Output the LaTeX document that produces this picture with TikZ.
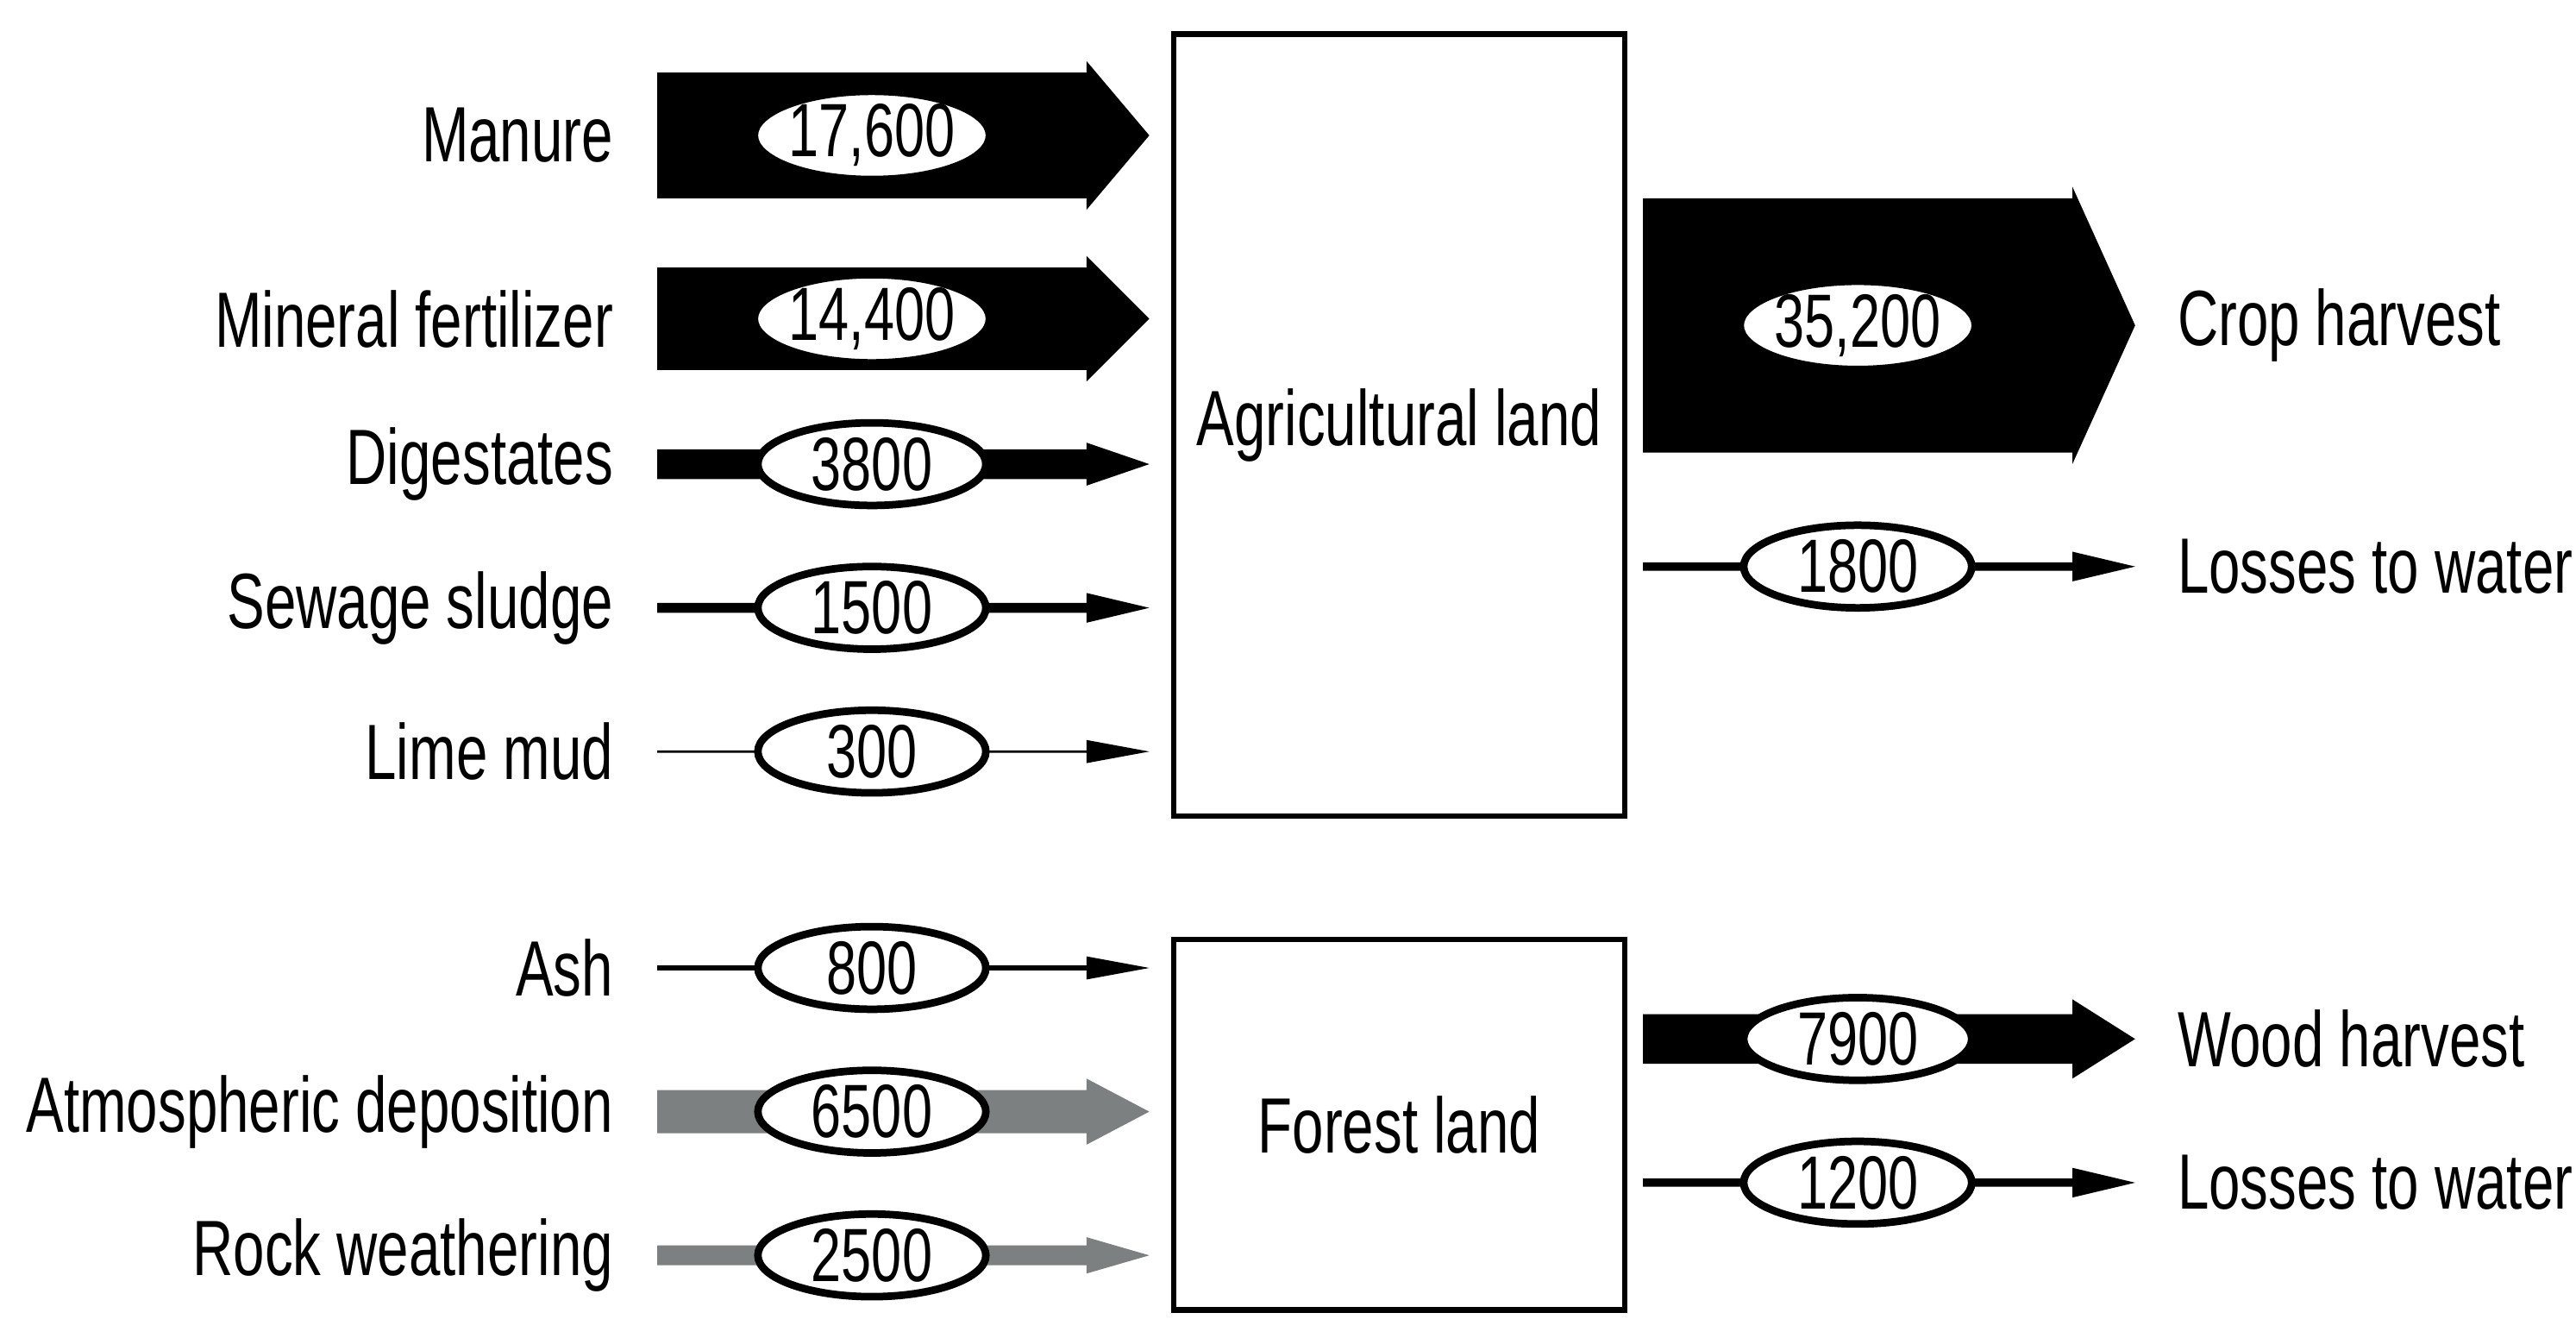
\documentclass[tikz,border=0pt]{standalone}
\usetikzlibrary{shapes.geometric}
\usepackage{fontspec}
\setmainfont[FakeStretch=0.72]{Liberation Sans}
\begin{document}
\begin{tikzpicture}[x=0.01cm,y=-0.01cm,
  val/.style={ellipse,draw,line width=1.3pt,fill=white,minimum width=1.38cm,minimum height=0.5cm,inner sep=0pt,font=\fontsize{13}{15}\selectfont},
  lab/.style={font=\fontsize{13.5}{16}\selectfont,inner sep=0pt},
  box/.style={draw,line width=1pt}]
\useasboundingbox (0,0) rectangle (1560,810);
\newcommand{\flowarr}[7]{\fill[#7] (#1,#3-#4) -- (#2-#6,#3-#4) -- (#2-#6,#3-#5) -- (#2,#3) -- (#2-#6,#3+#5) -- (#2-#6,#3+#4) -- (#1,#3+#4) -- cycle;}
\definecolor{gr}{RGB}{125,128,128}
\flowarr{398}{696}{82}{38}{45}{38}{black}
\flowarr{398}{696}{193}{31}{38}{38}{black}
\flowarr{398}{696}{281}{9}{13}{38}{black}
\flowarr{398}{696}{368}{3}{9}{38}{black}
\flowarr{398}{696}{455}{0.7}{7}{38}{black}
\flowarr{398}{696}{586}{1.5}{7}{38}{black}
\flowarr{398}{696}{673}{13}{20}{38}{gr}
\flowarr{398}{696}{760}{6}{11}{38}{gr}
\flowarr{995}{1293}{197}{77}{84}{38}{black}
\flowarr{995}{1293}{343}{2.5}{9}{38}{black}
\flowarr{995}{1293}{629}{15}{24}{38}{black}
\flowarr{995}{1293}{716}{2.5}{9}{38}{black}
\node[box,minimum width=2.73cm,minimum height=4.73cm,anchor=north west,font=\fontsize{13.5}{16}\selectfont] (agri) at (709,19) {Agricultural land};
\node[box,minimum width=2.73cm,minimum height=2.24cm,anchor=north west,font=\fontsize{13.5}{16}\selectfont] (forest) at (709,567) {Forest land};
\foreach \n/\y/\t/\v in {m/82/Manure/{17,600},f/193/Mineral fertilizer/{14,400},d/281/Digestates/3800,s/368/Sewage sludge/1500,l/455/Lime mud/300,a/586/Ash/800,at/673/Atmospheric deposition/6500,r/760/Rock weathering/2500}{
  \node[val] (v\n) at (528,\y) {\v};
  \node[lab,anchor=east] (t\n) at (372,\y) {\t};
}
\foreach \n/\y/\t/\v in {c/197/Crop harvest/{35,200},lw/343/Losses to water/1800,w/629/Wood harvest/7900,lf/716/Losses to water/1200}{
  \node[val] (v\n) at (1125,\y) {\v};
  \node[lab,anchor=west] (t\n) at (1318,\y) {\t};
}
\end{tikzpicture}
\end{document}
